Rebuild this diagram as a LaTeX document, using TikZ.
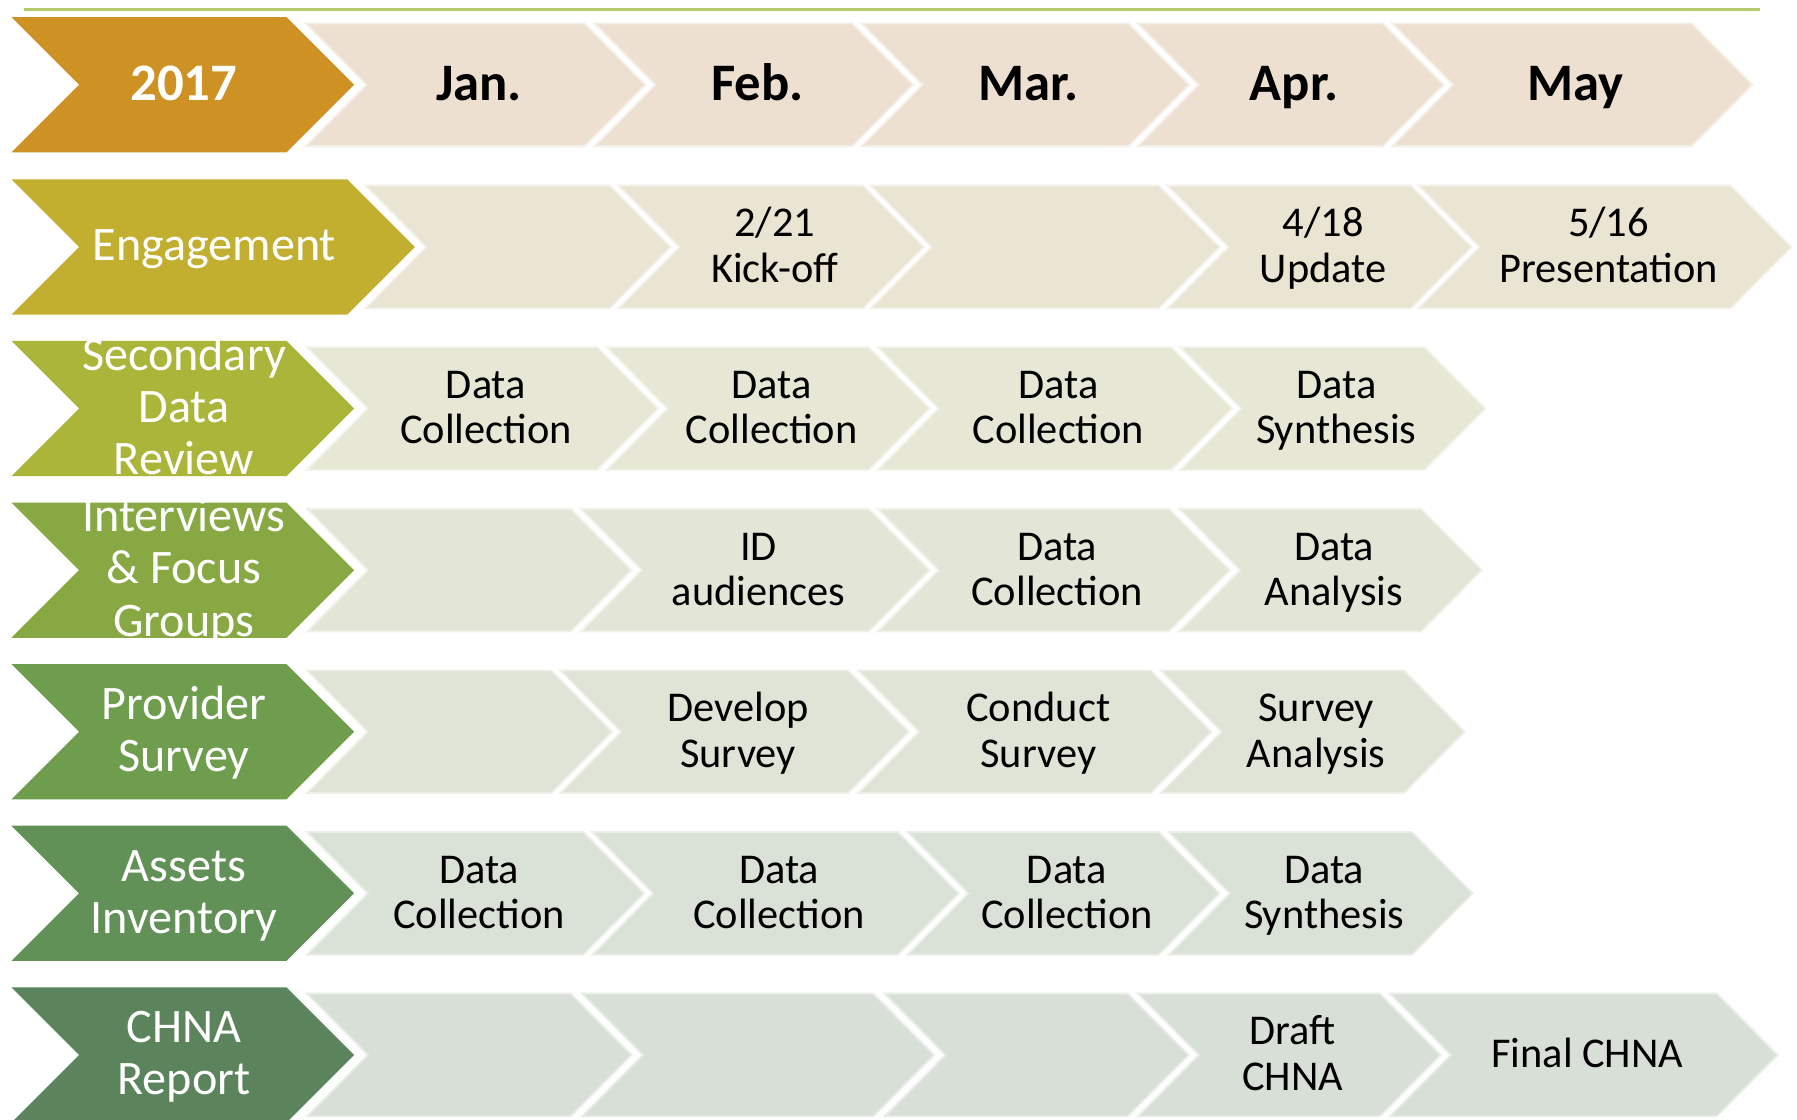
\documentclass[tikz,border=0pt]{standalone}
\usepackage{fontspec}
\setmainfont{Carlito}
\definecolor{cLine}{HTML}{B4CC6C}
\definecolor{cYear}{HTML}{CE9124}
\definecolor{cEng}{HTML}{C2AF30}
\definecolor{cSec}{HTML}{AAB53A}
\definecolor{cInt}{HTML}{88A843}
\definecolor{cProv}{HTML}{6E9D4E}
\definecolor{cAss}{HTML}{629157}
\definecolor{cChna}{HTML}{5B845C}
\definecolor{pA}{HTML}{EDE0D1}
\definecolor{pB}{HTML}{EAE4D3}
\definecolor{pC}{HTML}{E6E7D5}
\definecolor{pD}{HTML}{E3E6D6}
\definecolor{pE}{HTML}{DFE4D7}
\definecolor{pF}{HTML}{DAE1D6}
\definecolor{pG}{HTML}{D7DFD6}
\tikzset{
  body/.style={font=\fontsize{37}{39.5}\selectfont, text=black, align=center,
    inner sep=0pt, anchor=base, yshift={-11pt-(#1-1)*19.75pt}},
  month/.style={font=\bfseries\fontsize{46}{50}\selectfont, text=black, align=center,
    inner sep=0pt, anchor=base, yshift=-14pt},
  lab/.style={font=\fontsize{42}{45.5}\selectfont, text=white, align=center,
    inner sep=0pt, anchor=base, yshift={-12pt-(#1-1)*22.75pt}},
  yearlab/.style={font=\bfseries\fontsize{46}{50}\selectfont, text=white, align=center,
    inner sep=0pt, anchor=base, yshift=-14pt},
  palefill/.style={fill=#1, draw=#1!55!white, line width=1.6pt, line join=miter},
  labfill/.style={fill=#1},
}
% pale cell: name, L, TR, yc, colour, style, text
\newcommand\mycell[7]{%
  \path[palefill=#5] (#2,#4-53.5) -- (#3,#4-53.5) -- (#3+53,#4) -- (#3,#4+53.5)
     -- (#2,#4+53.5) -- (#2+53,#4) -- cycle;
  \node[#6] (#1) at ({(#2+#3+53)/2+3},#4) {#7};}
\newcommand\myemptycell[4]{%
  \path[palefill=#4] (#1,#3-53.5) -- (#2,#3-53.5) -- (#2+53,#3) -- (#2,#3+53.5)
     -- (#1,#3+53.5) -- (#1+53,#3) -- cycle;}
% label: name, TR, yc, colour, style, text
\newcommand\mylab[6]{%
  \path[labfill=#4] (10,#3-59) -- (#2,#3-59) -- (#2+59,#3) -- (#2,#3+59)
     -- (10,#3+59) -- (69,#3) -- cycle;
  \node[#5] (#1) at ({(10+#2+59)/2+1},#3) {#6};}
\begin{document}
\begin{tikzpicture}[x=1pt,y=-1pt]
\useasboundingbox (0,0) rectangle (1568,977);
\fill[white] (0,0) rectangle (1568,977);
% top rule
\coordinate (ruleL) at (21,8);
\coordinate (ruleR) at (1536,8);
\draw[cLine, line width=2.8pt] (ruleL) -- (ruleR);

% row 0: months
\mylab{year}{250}{74}{cYear}{yearlab}{2017}
\mycell{jan}{267}{510}{74}{pA}{month}{Jan.}
\mycell{feb}{519}{743.5}{74}{pA}{month}{Feb.}
\mycell{mar}{752}{984.5}{74}{pA}{month}{Mar.}
\mycell{apr}{993}{1206.5}{74}{pA}{month}{Apr.}
\mycell{may}{1215}{1476}{74}{pA}{month}{May}

% row 1: engagement
\mylab{eng}{303}{215.5}{cEng}{lab=1}{Engagement}
\myemptycell{319}{532}{215.5}{pB}
\mycell{kick}{540}{753}{215.5}{pB}{body=2}{2/21\\Kick-off}
\myemptycell{760}{1011}{215.5}{pB}
\mycell{upd}{1019}{1231}{215.5}{pB}{body=2}{4/18\\Update}
\mycell{pres}{1238}{1510}{215.5}{pB}{body=2}{5/16\\Presentation}

% row 2: secondary data review
\mylab{sec}{250}{356.5}{cSec}{lab=3}{Secondary\\Data\\Review}
\mycell{secA}{268}{521}{356.5}{pC}{body=2}{Data\\Collection}
\mycell{secB}{529.5}{758}{356.5}{pC}{body=2}{Data\\Collection}
\mycell{secC}{766}{1022}{356.5}{pC}{body=2}{Data\\Collection}
\mycell{secD}{1030}{1243}{356.5}{pC}{body=2}{Data\\Synthesis}

% row 3: interviews
\mylab{int}{250}{497.5}{cInt}{lab=3}{Interviews\\\&\ Focus\\Groups}
\myemptycell{268}{498}{497.5}{pD}
\mycell{intB}{507}{758}{497.5}{pD}{body=2}{ID\\audiences}
\mycell{intC}{766}{1020}{497.5}{pD}{body=2}{Data\\Collection}
\mycell{intD}{1029}{1240}{497.5}{pD}{body=2}{Data\\Analysis}

% row 4: provider survey
\mylab{prov}{250}{638.5}{cProv}{lab=2}{Provider\\Survey}
\myemptycell{268}{481}{638.5}{pE}
\mycell{provB}{489}{740}{638.5}{pE}{body=2}{Develop\\Survey}
\mycell{provC}{749}{1004}{638.5}{pE}{body=2}{Conduct\\Survey}
\mycell{provD}{1013}{1225}{638.5}{pE}{body=2}{Survey\\Analysis}

% row 5: assets inventory
\mylab{ass}{250}{779.5}{cAss}{lab=2}{Assets\\Inventory}
\mycell{assA}{268}{509}{779.5}{pF}{body=2}{Data\\Collection}
\mycell{assB}{517}{783.5}{779.5}{pF}{body=2}{Data\\Collection}
\mycell{assC}{792}{1011}{779.5}{pF}{body=2}{Data\\Collection}
\mycell{assD}{1020}{1232}{779.5}{pF}{body=2}{Data\\Synthesis}

% row 6: CHNA report
\mylab{chna}{250}{920.5}{cChna}{lab=2}{CHNA\\Report}
\myemptycell{268}{498}{920.5}{pG}
\myemptycell{508}{762}{920.5}{pG}
\myemptycell{772}{984}{920.5}{pG}
\mycell{draft}{993}{1204}{920.5}{pG}{body=2}{Draft\\CHNA}
\mycell{final}{1213}{1498}{920.5}{pG}{body=1}{Final CHNA}
\end{tikzpicture}
\end{document}
